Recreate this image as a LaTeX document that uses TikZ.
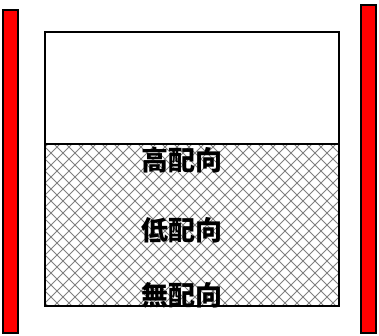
\documentclass[tikz,border=0pt]{standalone}
\usepackage{fontspec}
\newfontfamily\cjk{Noto Sans CJK JP}
\begin{document}
\begin{tikzpicture}[x=1pt,y=-1pt,
  bar/.style={draw=black,fill=red,line width=1.5pt,inner sep=0pt,outer sep=0pt,anchor=north west},
  box/.style={draw=black,line width=1.5pt,inner sep=0pt,outer sep=0pt,anchor=north west},
  hatch/.style={draw=gray,line width=0.8pt},
  lbl/.style={font=\cjk\bfseries\fontsize{27}{27}\selectfont,inner sep=0pt}]
\useasboundingbox (0,0) rectangle (379,335);
% red bars
\node[bar,minimum width=15pt,minimum height=323pt] (lbar) at (3,10) {};
\node[bar,minimum width=15pt,minimum height=328pt] (rbar) at (361,5) {};
% hatching
\begin{scope}
  \clip (45,144) rectangle (339,306);
  \foreach \i in {-174,-162,...,350} {
    \draw[hatch] (\i,144) -- ++(162,162);
    \draw[hatch] (\i,306) -- ++(162,-162);
  }
\end{scope}
% boxes
\node[box,minimum width=294pt,minimum height=112pt] (top) at (45,32) {};
\node[box,minimum width=294pt,minimum height=162pt] (bottom) at (45,144) {};
% labels
\node[lbl] (high) at (182,160) {高配向};
\node[lbl] (low) at (182,230) {低配向};
\node[lbl] (none) at (182,295) {無配向};
\end{tikzpicture}
\end{document}
